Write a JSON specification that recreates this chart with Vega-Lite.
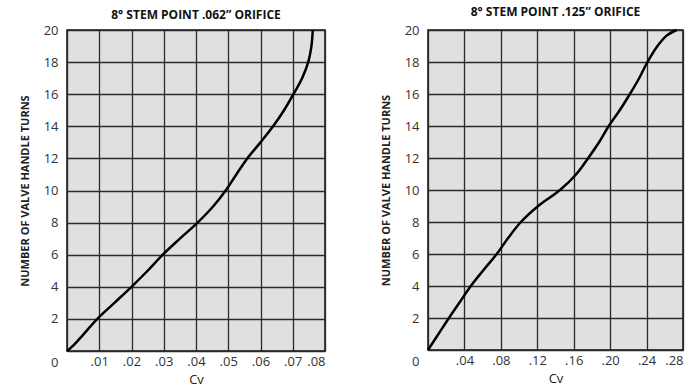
{
  "$schema": "https://vega.github.io/schema/vega-lite/v6.json",
  "padding": {"left": 18, "top": 5, "right": 10, "bottom": 2},
  "background": "white",
  "spacing": 53,
  "datasets": {
    "a": [
      {"cv": 0, "turns": 0},
      {"cv": 0.002, "turns": 0.35},
      {"cv": 0.0045, "turns": 0.9},
      {"cv": 0.0094, "turns": 2},
      {"cv": 0.0147, "turns": 3},
      {"cv": 0.02, "turns": 4},
      {"cv": 0.025, "turns": 5},
      {"cv": 0.0297, "turns": 6},
      {"cv": 0.035, "turns": 7},
      {"cv": 0.0405, "turns": 8},
      {"cv": 0.0453, "turns": 9},
      {"cv": 0.0492, "turns": 10},
      {"cv": 0.0525, "turns": 11},
      {"cv": 0.0559, "turns": 12},
      {"cv": 0.06, "turns": 13},
      {"cv": 0.0639, "turns": 14},
      {"cv": 0.0673, "turns": 15},
      {"cv": 0.0702, "turns": 16},
      {"cv": 0.0729, "turns": 17},
      {"cv": 0.0748, "turns": 18},
      {"cv": 0.0758, "turns": 19},
      {"cv": 0.0762, "turns": 20}
    ],
    "b": [
      {"cv": 0, "turns": 0},
      {"cv": 0.0115, "turns": 1},
      {"cv": 0.023, "turns": 2},
      {"cv": 0.035, "turns": 3},
      {"cv": 0.047, "turns": 4},
      {"cv": 0.061, "turns": 5},
      {"cv": 0.0755, "turns": 6},
      {"cv": 0.088, "turns": 7},
      {"cv": 0.102, "turns": 8},
      {"cv": 0.121, "turns": 9},
      {"cv": 0.145, "turns": 10},
      {"cv": 0.163, "turns": 11},
      {"cv": 0.176, "turns": 12},
      {"cv": 0.188, "turns": 13},
      {"cv": 0.1985, "turns": 14},
      {"cv": 0.2107, "turns": 15},
      {"cv": 0.2217, "turns": 16},
      {"cv": 0.232, "turns": 17},
      {"cv": 0.241, "turns": 18},
      {"cv": 0.252, "turns": 19},
      {"cv": 0.262, "turns": 19.65},
      {"cv": 0.273, "turns": 20}
    ]
  },
  "config": {
    "view": {"fill": "#e0e0e0", "stroke": "#111111", "strokeWidth": 1.5},
    "font": "Open Sans",
    "axis": {
      "grid": true,
      "gridColor": "#2a2a2a",
      "gridWidth": 1.3,
      "gridOpacity": 1,
      "domain": false,
      "ticks": false,
      "labelFont": "Open Sans",
      "labelFontSize": 13,
      "labelColor": "#333333",
      "titleColor": "#222222"
    },
    "title": {"fontSize": 12, "fontWeight": "bold", "font": "Open Sans", "offset": 2, "color": "#111111"}
  },
  "hconcat": [
    {
      "title": "8° STEM POINT .062” ORIFICE",
      "width": 258,
      "height": 321,
      "data": {"name": "a"},
      "mark": {"type": "line", "color": "#000000", "strokeWidth": 2.5, "interpolate": "catmull-rom"},
      "encoding": {
        "x": {
          "field": "cv", "type": "quantitative",
          "scale": {"domain": [0, 0.08], "nice": false},
          "axis": {
            "values": [0, 0.01, 0.02, 0.03, 0.04, 0.05, 0.06, 0.07, 0.08],
            "labelExpr": "datum.value == 0 ? '' : substring(format(datum.value, '.2f'), 1)",
            "title": "Cv", "titlePadding": 5, "labelPadding": 4,
            "titleFontWeight": "normal", "titleFontSize": 13, "titleFont": "Open Sans"
          }
        },
        "y": {
          "field": "turns", "type": "quantitative",
          "scale": {"domain": [0, 20], "nice": false},
          "axis": {
            "values": [0, 2, 4, 6, 8, 10, 12, 14, 16, 18, 20],
            "title": "NUMBER OF VALVE HANDLE TURNS",
            "titleFontWeight": "bold", "titleFontSize": 11, "titleFont": "Open Sans",
            "labelPadding": 9, "titlePadding": 13,
            "labelOffset": {"condition": {"test": "datum.value == 0", "value": 11}, "value": 0}
          }
        }
      }
    },
    {
      "title": {"text": "8° STEM POINT .125” ORIFICE", "offset": 5},
      "width": 255,
      "height": 320,
      "data": {"name": "b"},
      "mark": {"type": "line", "color": "#000000", "strokeWidth": 2.5, "interpolate": "catmull-rom"},
      "encoding": {
        "x": {
          "field": "cv", "type": "quantitative",
          "scale": {"domain": [0, 0.28], "nice": false},
          "axis": {
            "values": [0, 0.04, 0.08, 0.12, 0.16, 0.2, 0.24, 0.28],
            "labelExpr": "datum.value == 0 ? '' : substring(format(datum.value, '.2f'), 1)",
            "title": "Cv", "titlePadding": 5, "labelPadding": 4,
            "titleFontWeight": "normal", "titleFontSize": 13, "titleFont": "Open Sans"
          }
        },
        "y": {
          "field": "turns", "type": "quantitative",
          "scale": {"domain": [0, 20], "nice": false},
          "axis": {
            "values": [0, 2, 4, 6, 8, 10, 12, 14, 16, 18, 20],
            "title": "NUMBER OF VALVE HANDLE TURNS",
            "titleFontWeight": "bold", "titleFontSize": 11, "titleFont": "Open Sans",
            "labelPadding": 9, "titlePadding": 13,
            "labelOffset": {"condition": {"test": "datum.value == 0", "value": 11}, "value": 0}
          }
        }
      }
    }
  ]
}
